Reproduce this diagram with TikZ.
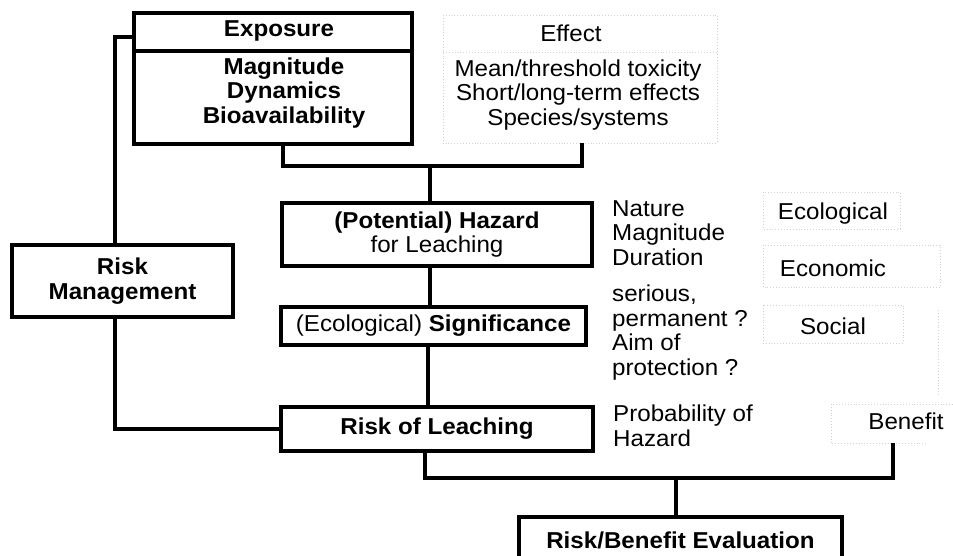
\documentclass[tikz,border=0pt]{standalone}
\usepackage{fontspec}
\setmainfont{Liberation Sans}[FakeStretch=1.05]
\usetikzlibrary{positioning}

\begin{document}
\begin{tikzpicture}[
    x=1pt, y=-1pt,
    font=\fontsize{23}{24.5}\selectfont,
    stage/.style={rectangle, draw=black, line width=3.4pt, inner sep=0pt, align=center},
    bold/.style={font=\fontsize{23}{24.5}\selectfont\bfseries},
    note/.style={anchor=north west, inner sep=0pt, align=left},
    tag/.style={inner sep=0pt, align=center},
    frame/.style={draw=gray!35, dotted, line width=0.9pt},
    wire/.style={line width=3.4pt}
]
\useasboundingbox (0,0) rectangle (953,556);

% faint dotted frames
\draw[frame] (443,15) rectangle (717,143);
\draw[frame] (443,52) -- (717,52);
\draw[frame] (763,192) rectangle (900,229);
\draw[frame] (763,245) rectangle (940,287);
\draw[frame] (763,305) rectangle (903,343);
\draw[frame] (938,310) -- (938,395);
\draw[frame] (953,404) -- (831,404) -- (831,443) -- (927,443);

% main column
\node[stage, minimum width=278pt, minimum height=38pt] (exphead) at (273,32) {};
\node[stage, minimum width=278pt, minimum height=93pt] (expbody) at (273,97.5) {};
\node[tag, bold] (expname) at (279,31) {Exposure};
\node[tag, bold] (expitems) at (284,93) {Magnitude\\Dynamics\\Bioavailability};
\node[stage, bold, minimum width=310pt, minimum height=63pt] (hazard) at (437,234.5) {(Potential) Hazard\\\mdseries for Leaching};
\node[stage, minimum width=305pt, minimum height=38pt] (signif) at (433.5,326) {(Ecological) \textbf{Significance}};
\node[stage, bold, minimum width=312pt, minimum height=44pt] (leach) at (437,429) {Risk of Leaching};
\node[stage, bold, minimum width=221pt, minimum height=72pt] (manage) at (122.5,281) {Risk\\Management};
\node[stage, bold, minimum width=323pt, minimum height=46pt] (eval) at (680.5,540) {Risk/Benefit Evaluation};

% side texts
\node[tag] (effect) at (571,33) {Effect};
\node[tag] (efflist) at (578,95) {Mean/threshold toxicity\\Short/long-term effects\\Species/systems};
\node[note] (nature) at (612,200) {Nature\\Magnitude\\Duration};
\node[note] (serious) at (612,285) {serious,\\permanent ?\\Aim of\\protection ?};
\node[note] (prob) at (613,405) {Probability of\\Hazard};
\node[tag] (ecol) at (833,214) {Ecological};
\node[tag] (econ) at (833,268.5) {Economic};
\node[tag] (social) at (833,326) {Social};
\node[tag] (benefit) at (906,421.5) {Benefit};

% connectors
\coordinate (fork) at (430,166);
\coordinate (effin) at (582,143);
\coordinate (merge) at (676,478);
\coordinate (benin) at (893,443);

\draw[wire] (expbody.south -| 283,0) |- (fork) -| (effin);
\draw[wire] (fork) -- (hazard.north -| fork);
\draw[wire] (hazard.south -| 430,0) -- (signif.north -| 430,0);
\draw[wire] (signif.south -| 428,0) -- (leach.north -| 428,0);
\draw[wire] (exphead.west |- 0,37) -| (manage.north -| 115,0);
\draw[wire] (manage.south -| 115,0) |- (leach.west);
\draw[wire] (leach.south -| 425,0) |- (merge) -| (benin);
\draw[wire] (merge) -- (eval.north -| merge);

\end{tikzpicture}
\end{document}
